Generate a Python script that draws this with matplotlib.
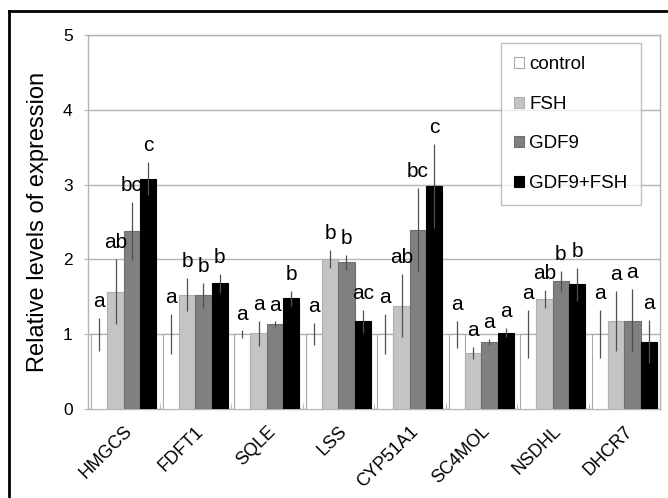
import matplotlib
matplotlib.use("Agg")
import matplotlib.pyplot as plt
import numpy as np
from matplotlib.lines import Line2D
from matplotlib.patches import Patch

plt.rcParams['font.family'] = ['Liberation Sans', 'DejaVu Sans']

genes = ["HMGCS", "FDFT1", "SQLE", "LSS", "CYP51A1", "SC4MOL", "NSDHL", "DHCR7"]
series_names = ["control", "FSH", "GDF9", "GDF9+FSH"]

control = [1.0, 1.0, 1.0, 1.0, 1.0, 1.0, 1.0, 1.0]
fsh = [1.57, 1.53, 1.01, 2.00, 1.38, 0.75, 1.47, 1.18]
gdf9 = [2.38, 1.52, 1.13, 1.96, 2.39, 0.89, 1.71, 1.18]
gdf9_fsh = [3.08, 1.68, 1.48, 1.17, 2.98, 1.02, 1.67, 0.90]

control_err = [0.22, 0.27, 0.05, 0.15, 0.27, 0.18, 0.32, 0.32]
fsh_err = [0.43, 0.22, 0.17, 0.12, 0.42, 0.08, 0.12, 0.40]
gdf9_err = [0.39, 0.17, 0.04, 0.10, 0.56, 0.04, 0.14, 0.42]
gdf9_fsh_err = [0.22, 0.13, 0.10, 0.15, 0.56, 0.06, 0.22, 0.29]

control_lbl = ["a", "a", "a", "a", "a", "a", "a", "a"]
fsh_lbl = ["ab", "b", "a", "b", "ab", "a", "ab", "a"]
gdf9_lbl = ["bc", "b", "a", "b", "bc", "a", "b", "a"]
gdf9_fsh_lbl = ["c", "b", "b", "ac", "c", "a", "b", "a"]

values = [control, fsh, gdf9, gdf9_fsh]
errors = [control_err, fsh_err, gdf9_err, gdf9_fsh_err]
labels = [control_lbl, fsh_lbl, gdf9_lbl, gdf9_fsh_lbl]
faces = ["#ffffff", "#c4c4c4", "#808080", "#000000"]
edges = ["#a8a8a8", "#b0b0b0", "#707070", "#000000"]

fig = plt.figure(figsize=(6.68, 4.98), dpi=100)
ax = fig.add_axes([88/668, 1-409/498, (660-88)/668, (409-35)/498])

n = len(genes)
x = np.arange(n)
w = 0.228
grid_c = "#b4b4b4"

for k in range(4):
    pos = x + (k - 1.5) * w
    ax.bar(pos, values[k], width=w, color=faces[k], edgecolor=edges[k],
           linewidth=0.8, zorder=3, label=series_names[k])
    ax.errorbar(pos, values[k], yerr=errors[k], fmt='none', ecolor="#505050",
                elinewidth=0.9, capsize=0, zorder=4)
    for i in range(n):
        top = values[k][i] + errors[k][i]
        ax.annotate(labels[k][i], (pos[i], top), xytext=(0, 5),
                    textcoords='offset points', ha='center', va='bottom',
                    fontsize=15, color='black', zorder=5)

ax.set_xlim(-0.5, n - 0.5)
ax.set_ylim(0, 5)
ax.set_yticks([0, 1, 2, 3, 4, 5])
ax.yaxis.grid(True, color=grid_c, linewidth=1.0, zorder=0)
ax.set_axisbelow(True)
for s in ax.spines.values():
    s.set_color(grid_c)
    s.set_linewidth(1.0)

ax.set_xticks(x)
ax.set_xticklabels(genes, rotation=45, ha='right', rotation_mode='anchor', fontsize=13)
ax.tick_params(axis='x', length=0, pad=10)
ax.set_xticks(np.arange(n + 1) - 0.5, minor=True)
ax.tick_params(axis='x', which='minor', length=4, direction='in', color=grid_c)
ax.tick_params(axis='y', length=3, color=grid_c, labelsize=12.5, pad=8)
ax.set_ylabel("Relative levels of expression", fontsize=17, labelpad=10)

handles = [Patch(facecolor=faces[k], edgecolor=edges[k], linewidth=0.8) for k in range(4)]
leg = ax.legend(handles, series_names, loc='upper right', bbox_to_anchor=(0.966, 0.978),
                fontsize=13.5, frameon=True, fancybox=False, edgecolor="#b0b0b0",
                handlelength=0.5, handleheight=0.5, handletextpad=0.3,
                labelspacing=1.2, borderpad=0.7, borderaxespad=0)
leg.get_frame().set_linewidth(1.0)
leg.set_zorder(10)

# outer black frame (left and top)
fig.add_artist(Line2D([9/668, 9/668], [0, 1-11/498], color='black', linewidth=2, transform=fig.transFigure))
fig.add_artist(Line2D([9/668, 1], [1-11/498, 1-11/498], color='black', linewidth=2, transform=fig.transFigure))

fig.savefig("out.png", dpi=100)
